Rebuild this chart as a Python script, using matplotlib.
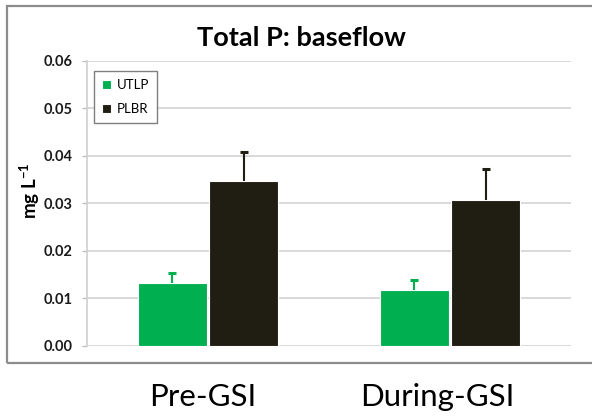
import matplotlib
matplotlib.use("Agg")
import matplotlib.pyplot as plt
import numpy as np
from matplotlib.patches import Rectangle
from matplotlib.transforms import ScaledTranslation

categories = ["Pre-GSI", "During-GSI"]
series_names = ["UTLP", "PLBR"]
utlp = [0.0132, 0.0118]
utlp_err = [0.0021, 0.0020]
plbr = [0.0347, 0.0307]
plbr_err = [0.0062, 0.0065]
yticks = [0.00, 0.01, 0.02, 0.03, 0.04, 0.05, 0.06]
title = "Total P: baseflow"
ylabel = "mg L$^{\\mathbf{-1}}$"

plt.rcParams['font.family'] = ['Lato', 'DejaVu Sans']
plt.rcParams['mathtext.fontset'] = 'custom'
plt.rcParams['mathtext.rm'] = 'Lato'
plt.rcParams['mathtext.bf'] = 'Lato:bold'

W, H = 592, 417
fig = plt.figure(figsize=(W / 100, H / 100), dpi=100)
ax = fig.add_axes([87 / W, 1 - 345.7 / H, (571 - 87) / W, (345.7 - 61) / H])

# outer frame
fig.patches.append(Rectangle((7 / W, 1 - 363 / H), (W + 10 - 7) / W, (363 - 5.5) / H,
                             transform=fig.transFigure, fill=False,
                             edgecolor="#8c8c8c", linewidth=1.6, zorder=0))

x = np.arange(len(categories))
bw = 0.287
green = "#00b050"
black = "#201d13"
xs1 = x - bw / 2 - 0.004
xs2 = x + bw / 2 + 0.004
ax.bar(xs1, utlp, bw, color=green, edgecolor="white", linewidth=0.8,
       label=series_names[0], zorder=3)
ax.bar(xs2, plbr, bw, color=black, edgecolor="white", linewidth=0.8,
       label=series_names[1], zorder=3)
for xs, vals, errs, col in [(xs1, utlp, utlp_err, green), (xs2, plbr, plbr_err, black)]:
    eb = ax.errorbar(xs, vals, yerr=[np.zeros(len(vals)), errs], fmt="none",
                     ecolor=col, elinewidth=1.5, capsize=3, capthick=2.2, zorder=4)
    for cl in eb[1]:
        yd = np.asarray(cl.get_ydata())
        if np.allclose(yd, vals):
            cl.set_visible(False)

ax.set_xlim(-0.5, len(categories) - 0.5)
ax.set_ylim(0, 0.06)
ax.set_yticks(yticks)
ax.set_yticklabels([f"{v:.2f}" for v in yticks], fontsize=10.5, fontweight="bold", color="#1a1a1a")
ax.yaxis.grid(True, color="#d9d9d9", linewidth=1.4, zorder=0)
ax.set_axisbelow(True)
ax.tick_params(axis="y", length=3.6, width=1, color="#bfbfbf", pad=6.5)
for s in ["top", "right", "bottom"]:
    ax.spines[s].set_visible(False)
ax.spines["left"].set_color("#d0d0d0")
ax.spines["left"].set_linewidth(1.2)

ax.set_xticks(x)
ax.set_xticklabels(categories, fontsize=22.5, color="black")
ax.tick_params(axis="x", length=0, pad=27)
offsets = [-5, -13]
for lab, dx in zip(ax.get_xticklabels(), offsets):
    lab.set_transform(lab.get_transform() + ScaledTranslation(dx / 100, 0, fig.dpi_scale_trans))

fig.text(301 / W, 1 - 38 / H, title, ha="center", va="center", fontsize=19.5, fontweight="bold")
fig.text(30 / W, 1 - 191 / H, ylabel, ha="center", va="center", rotation=90,
         fontsize=13.5, fontweight="bold")

leg = ax.legend(loc="upper left", bbox_to_anchor=(7 / 484, 1 - 10 / 284.7), fontsize=9.5,
                handlelength=0.7, handleheight=0.7, handletextpad=0.4, borderpad=0.6,
                labelspacing=0.9, borderaxespad=0, fancybox=False, framealpha=1,
                edgecolor="#7f7f7f")
leg.get_frame().set_linewidth(1.0)

fig.savefig("out.png", dpi=100)
